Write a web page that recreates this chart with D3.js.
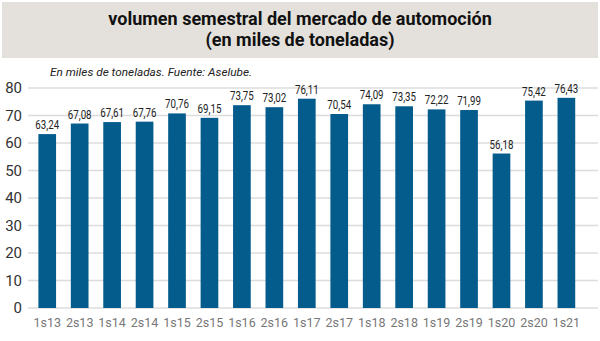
<!DOCTYPE html>
<html>
<head>
<meta charset="utf-8">
<script src="https://cdn.jsdelivr.net/npm/d3@7"></script>
<style>
  body { margin: 0; background: #fff; }
  svg { display: block; }
</style>
</head>
<body>
<script>
const width = 600
const height = 341

const categories = ["1s13", "2s13", "1s14", "2s14", "1s15", "2s15", "1s16", "2s16", "1s17",
    "2s17", "1s18", "2s18", "1s19", "2s19", "1s20", "2s20", "1s21"];
const values = [63.24, 67.08, 67.61, 67.76, 70.76, 69.15, 73.75, 73.02, 76.11,
    70.54, 74.09, 73.35, 72.22, 71.99, 56.18, 75.42, 76.43];
const yTicks = [0, 10, 20, 30, 40, 50, 60, 70, 80];

const svg = d3.select("body").append("svg")
    .attr("width", width)
    .attr("height", height);

// title box
svg.append("rect")
    .attr("x", 2).attr("y", 2)
    .attr("width", 596).attr("height", 56)
    .attr("fill", "#e4e1dc");

svg.append("text")
    .attr("x", 300).attr("y", 25)
    .attr("text-anchor", "middle")
    .style("font", "bold 18px Roboto, sans-serif")
    .attr("fill", "#111")
    .text("volumen semestral del mercado de automoción");

svg.append("text")
    .attr("x", 300).attr("y", 46)
    .attr("text-anchor", "middle")
    .style("font", "bold 18px Roboto, sans-serif")
    .attr("fill", "#111")
    .text("(en miles de toneladas)");

svg.append("text")
    .attr("x", 50).attr("y", 76)
    .style("font", "italic 11.8px Roboto, sans-serif")
    .attr("fill", "#222")
    .text("En miles de toneladas. Fuente: Aselube.");

// scales
const x = d3.scaleBand()
    .domain(categories)
    .range([31, 582.6])
    .paddingInner(0.455)
    .paddingOuter(0.2275);

const y = d3.scaleLinear()
    .domain([0, 80])
    .range([308, 88]);

// gridlines
svg.append("g")
    .selectAll("line")
    .data(yTicks)
    .enter()
    .append("line")
    .attr("x1", 28).attr("x2", 598)
    .attr("y1", d => y(d)).attr("y2", d => y(d))
    .attr("stroke", "#dcdcdc")
    .attr("stroke-width", 1.5);

// y axis labels
svg.append("g")
    .selectAll("text")
    .data(yTicks)
    .enter()
    .append("text")
    .attr("x", 22)
    .attr("y", d => y(d) + 5)
    .attr("text-anchor", "end")
    .style("font", "15px Roboto, sans-serif")
    .attr("fill", "#333")
    .text(d => d);

// bars
svg.append("g")
    .selectAll("rect")
    .data(values)
    .enter()
    .append("rect")
    .attr("x", (d, i) => x(categories[i]))
    .attr("width", x.bandwidth())
    .attr("y", d => y(d))
    .attr("height", d => y(0) - y(d))
    .attr("fill", "#045c8d");

// value labels (condensed look)
svg.append("g")
    .selectAll("text")
    .data(values)
    .enter()
    .append("text")
    .attr("transform", (d, i) =>
        `translate(${x(categories[i]) + x.bandwidth() / 2},${y(d) - 5}) scale(0.78,1)`)
    .attr("text-anchor", "middle")
    .style("font", "12.5px Roboto, sans-serif")
    .attr("fill", "#222")
    .text(d => d3.format(".2f")(d).replace(".", ","));

// x labels
svg.append("g")
    .selectAll("text")
    .data(categories)
    .enter()
    .append("text")
    .attr("x", d => x(d) + x.bandwidth() / 2)
    .attr("y", 327)
    .attr("text-anchor", "middle")
    .style("font", "12.5px Roboto, sans-serif")
    .attr("fill", "#777")
    .text(d => d);
</script>
</body>
</html>
